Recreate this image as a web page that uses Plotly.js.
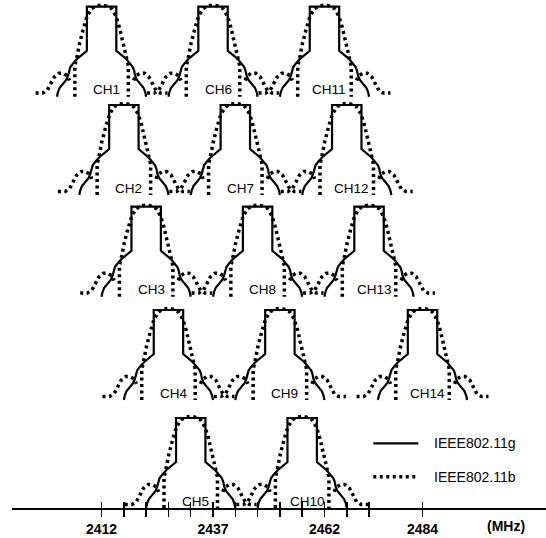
<!DOCTYPE html>
<html><head><meta charset="utf-8">
<script src="https://cdn.plot.ly/plotly-3.0.1.min.js"></script>
<style>html,body{margin:0;padding:0;background:#fff}</style>
</head><body><div id="chart" style="width:546px;height:538px"></div>
<script>
// ---- data ----
const channelNames = ['CH1','CH2','CH3','CH4','CH5','CH6','CH7','CH8','CH9','CH10','CH11','CH12','CH13','CH14'];
const centerFreqs = [2412,2417,2422,2427,2432,2437,2442,2447,2452,2457,2462,2467,2472,2484];
const channelRow = [1,2,3,4,5,1,2,3,4,5,1,2,3,4];
// IEEE802.11g (OFDM) drawn mask: offset from centre (MHz), relative level
const gOffsets = [-10.0,-9.8,-9.4,-8.6,-7.9,-7.5,-7.3,-7.0,-6.4,-5.5,-3.3,-3.3,3.3,3.3,5.5,6.4,7.0,7.3,7.5,7.9,8.6,9.4,9.8,10.0];
const gLevels  = [0,0.05,0.10,0.15,0.19,0.24,0.29,0.33,0.37,0.42,0.51,1.0,1.0,0.51,0.42,0.37,0.33,0.29,0.24,0.19,0.15,0.10,0.05,0];
// IEEE802.11b (DSSS) main lobe
const bMainOffsets = [-6.0,-6.0,-5.5,-4.9,-4.0,-3.2,-2.2,-1.0,0,1.0,2.2,3.2,4.0,4.9,5.5,6.0,6.0];
const bMainLevels  = [0,0.34,0.45,0.60,0.77,0.90,0.98,1.01,1.02,1.01,0.98,0.90,0.77,0.60,0.45,0.34,0];
// IEEE802.11b side lobes
const bLeftOffsets  = [-14.8,-13.2,-12.2,-11.4,-10.6,-9.6,-8.6,-7.6,-7.2];
const bLeftLevels   = [0.04,0.04,0.07,0.14,0.22,0.26,0.26,0.23,0.18];
const bRightOffsets = [7.2,7.6,8.6,9.6,10.6,11.4,12.2,13.2,14.8];
const bRightLevels  = [0.18,0.23,0.26,0.26,0.22,0.14,0.07,0.04,0.04];
// axis
const tickFreqs  = [2412,2417,2422,2427,2432,2437,2442,2447,2452,2457,2462,2467,2472,2484];
const tickLabels = ['2412','','','','','2437','','','','','2462','','','2484'];
const unitLabel = '(MHz)';
const legendNames = ['IEEE802.11g','IEEE802.11b'];

// ---- layout config (positions) ----
const rowBase = {1:411.3, 2:313, 3:211.3, 4:108, 5:0};
const rowHeight = 90;
const FONT = 'Liberation Sans, Arial, sans-serif';
const DOT = {color:'#000', width:3.5, dash:'3px,3.5px'};
const SOLID = {color:'#000', width:2.2};

const traces = [];
const annotations = [];
centerFreqs.forEach((fc, i) => {
  const base = rowBase[channelRow[i]];
  traces.push({
    type:'scatter', mode:'lines', showlegend:false, hoverinfo:'skip',
    x: gOffsets.map(o => fc + o),
    y: gLevels.map(v => base + v*rowHeight),
    line: SOLID
  });
  const bx = [], by = [];
  bLeftOffsets.forEach((o,k)=>{bx.push(fc+o); by.push(base+bLeftLevels[k]*rowHeight);});
  bx.push(null); by.push(null);
  bMainOffsets.forEach((o,k)=>{bx.push(fc+o); by.push(base+bMainLevels[k]*rowHeight);});
  bx.push(null); by.push(null);
  bRightOffsets.forEach((o,k)=>{bx.push(fc+o); by.push(base+bRightLevels[k]*rowHeight);});
  traces.push({
    type:'scatter', mode:'lines', showlegend:false, hoverinfo:'skip', connectgaps:false,
    x: bx, y: by, line: DOT
  });
  annotations.push({
    x: fc, y: base, xref:'x', yref:'y', text: channelNames[i], showarrow:false,
    xshift: 5, yshift: 7, xanchor:'center', yanchor:'middle',
    font:{family:FONT, size:13.5, color:'#000'}
  });
});

// unit label
annotations.push({x:(506-12)/534, y:(508-526)/508, xref:'paper', yref:'paper', text:unitLabel,
  showarrow:false, xanchor:'center', yanchor:'middle', font:{family:FONT, size:14, color:'#000', weight:'bold'}});
// legend texts
const legY = [(508-443.3)/508, (508-476.7)/508];
legendNames.forEach((n,k)=>{
  annotations.push({x:(431.7-12)/534, y:legY[k], xref:'paper', yref:'paper', text:n, showarrow:false,
    xanchor:'left', yanchor:'middle', font:{family:FONT, size:14, color:'#000'}});
});
const shapes = [
  {type:'line', xref:'paper', yref:'paper', x0:(373.3-12)/534, x1:(418.3-12)/534, y0:legY[0], y1:legY[0], line:SOLID},
  {type:'line', xref:'paper', yref:'paper', x0:(373.3-12)/534, x1:(418.3-12)/534, y0:legY[1], y1:legY[1], line:DOT}
];

const axisCommon = {
  range:[2391.9, 2511.7], tickmode:'array', tickvals:tickFreqs,
  showgrid:false, zeroline:false, tickcolor:'#000', tickwidth:1.5
};
const layout = {
  width:546, height:538,
  margin:{l:12, r:0, t:0, b:30},
  paper_bgcolor:'#fff', plot_bgcolor:'#fff',
  showlegend:false,
  xaxis: Object.assign({}, axisCommon, {
    ticktext:tickLabels, ticks:'outside', ticklen:7,
    showline:true, linecolor:'#000', linewidth:2,
    ticklabelshift:5.5,
    tickfont:{family:FONT, size:14, color:'#000', weight:'bold'}
  }),
  xaxis2: Object.assign({}, axisCommon, {
    overlaying:'x', matches:'x', side:'bottom', ticks:'inside', ticklen:6,
    showticklabels:false, showline:false
  }),
  yaxis:{range:[0,508], visible:false, showgrid:false, zeroline:false, fixedrange:true},
  annotations: annotations,
  shapes: shapes
};
// dummy trace to activate xaxis2
traces.push({type:'scatter', mode:'none', x:[2412], y:[0], xaxis:'x2', yaxis:'y', showlegend:false, hoverinfo:'skip'});
Plotly.newPlot('chart', traces, layout, {displayModeBar:false, staticPlot:true});
</script>
</body></html>
